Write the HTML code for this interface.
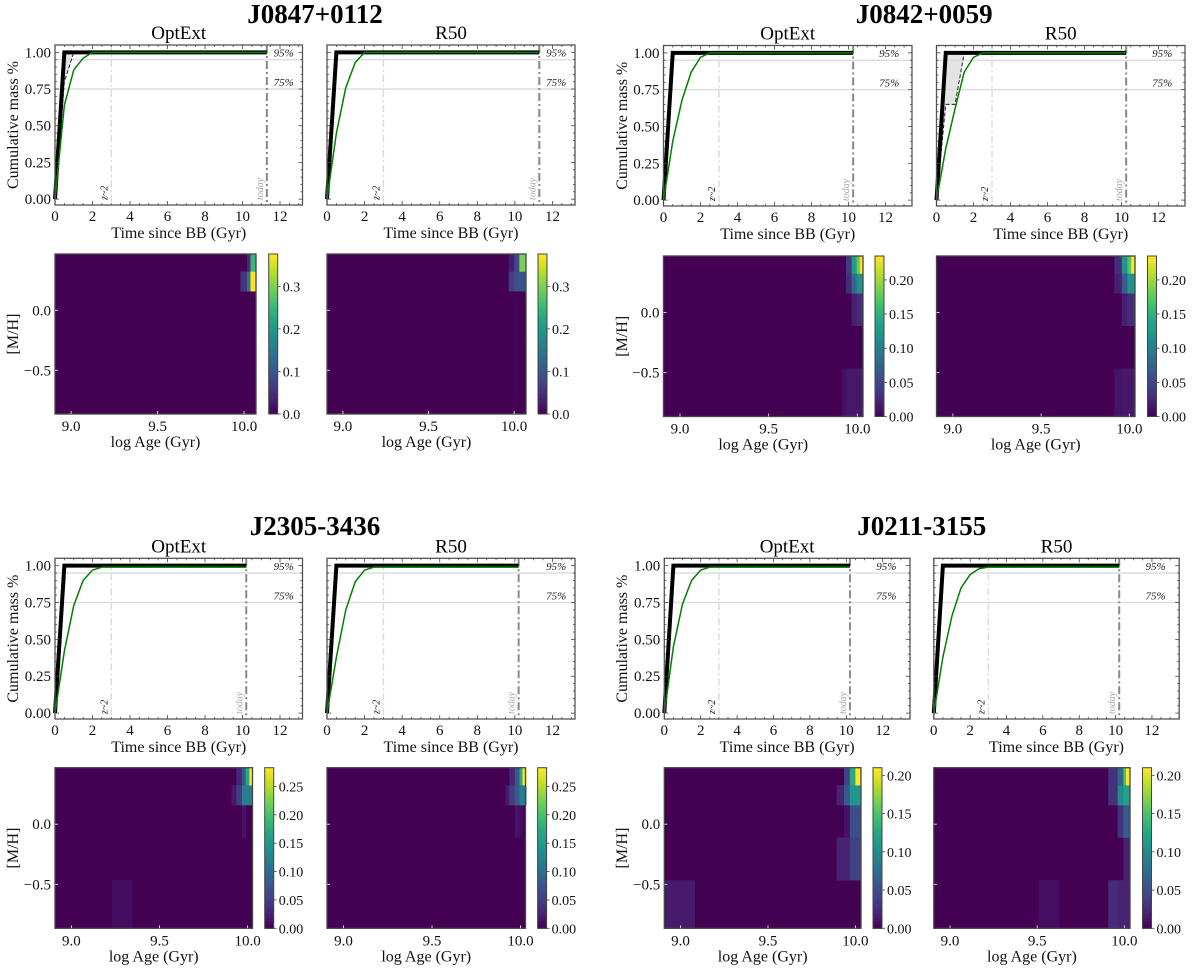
<!DOCTYPE html>
<html><head><meta charset="utf-8"><title>Cumulative mass and age–metallicity maps</title>
<style>
html,body{margin:0;padding:0;background:#fff;}
svg{display:block;font-family:"Liberation Serif","DejaVu Serif",serif;}
</style></head>
<body>
<svg id="fig" width="1200" height="971" viewBox="0 0 1200 971" xmlns="http://www.w3.org/2000/svg"></svg>
<script>
// ---------------- DATA ----------------
const galaxies = ["J0847+0112", "J0842+0059", "J2305-3436", "J0211-3155"];
const todayGyr = [11.3, 10.25, 10.2, 10.2];
const stepTimes = [0, 0.5, 1, 1.5, 2, 2.5, 3];
const blackOpt = [[0,1,1,1,1,1,1],[0,1,1,1,1,1,1],[0,1,1,1,1,1,1],[0,1,1,1,1,1,1]];
const blackR50 = [[0,1,1,1,1,1,1],[0,1,1,1,1,1,1],[0,1,1,1,1,1,1],[0,1,1,1,1,1,1]];
const lowerOpt = [[0,0.8,1,1,1,1,1],[0,1,1,1,1,1,1],[0,1,1,1,1,1,1],[0,1,1,1,1,1,1]];
const lowerR50 = [[0,1,1,1,1,1,1],[0,0.65,0.65,1,1,1,1],[0,1,1,1,1,1,1],[0,1,1,1,1,1,1]];
const greenOpt = [
  [0,0.64,0.88,0.96,1.0,1.0,1.0],
  [0,0.40,0.68,0.87,0.97,1.0,1.0],
  [0,0.42,0.73,0.90,0.97,0.99,0.99],
  [0,0.45,0.74,0.90,0.97,0.99,0.99]];
const greenR50 = [
  [0,0.45,0.76,0.93,1.0,1.0,1.0],
  [0,0.35,0.62,0.87,0.97,1.0,1.0],
  [0,0.38,0.70,0.89,0.97,0.99,0.99],
  [0,0.38,0.66,0.85,0.94,0.98,0.99]];
const yTicks = [0, 0.25, 0.5, 0.75, 1.0];
const yTickLabels = ["0.00","0.25","0.50","0.75","1.00"];
const xTicks = [0, 2, 4, 6, 8, 10, 12];
const refLevels = [0.95, 0.75];
const refLabels = ["95%", "75%"];
const zTwoGyr = 3.0;

// heatmaps: [M/H] bin edges (shared), log-age bin edges per panel, values rows bottom->top
const mhEdges = [-0.865, -0.465, -0.11, 0.16, 0.325, 0.47];
const heatXMax = [10.069, 10.032, 10.028, 10.032];
const cbarMax = [0.376, 0.235, 0.283, 0.21];
const cbarTicks = [[0,0.1,0.2,0.3],[0,0.05,0.10,0.15,0.20],[0,0.05,0.10,0.15,0.20,0.25],[0,0.05,0.10,0.15,0.20]];
const cbarDigits = [1, 2, 2, 2];
const ageEdgesOpt = [
  [9.979,10.017,10.037,10.069],
  [9.915,9.936,9.968,9.996,10.015,10.032],
  [9.23,9.344,9.908,9.936,9.968,9.989,10.01,10.028],
  [8.91,9.08,9.892,9.935,9.968,10.0,10.032]];
const ageEdgesR50 = [
  [9.968,10.0,10.03,10.069],
  [9.915,9.957,9.989,10.01,10.032],
  [9.915,9.936,9.968,9.994,10.011,10.032],
  [9.508,9.626,9.907,9.961,9.994,10.009,10.03]];
const heatOpt = [
  [[0,0,0],[0,0,0],[0,0,0],[0.06,0.15,0.376],[0,0.04,0.25]],
  [[0.01,0.015,0.015,0.015,0.015],[0,0,0,0,0],[0,0,0.02,0.03,0.03],[0,0.03,0.08,0.12,0.12],[0,0.04,0.13,0.18,0.235]],
  [[0.01,0,0,0,0,0,0],[0,0,0,0,0,0,0],[0,0,0,0,0.015,0,0],[0,0,0.02,0.05,0.12,0.12,0.12],[0,0,0,0.03,0.08,0.17,0.283]],
  [[0.015,0,0,0,0,0],[0,0,0.02,0.02,0.04,0.04],[0,0,0,0.01,0.05,0.05],[0,0,0.02,0.06,0.11,0.11],[0,0,0,0.04,0.13,0.21]]];
const heatR50 = [
  [[0,0,0],[0,0,0],[0,0,0],[0.07,0.09,0.1],[0.03,0.08,0.3]],
  [[0.012,0.015,0.015,0.015],[0,0,0,0],[0,0.02,0.03,0.03],[0.02,0.07,0.12,0.12],[0.03,0.12,0.17,0.235]],
  [[0,0,0,0,0],[0,0,0,0,0],[0,0,0.015,0.01,0],[0.02,0.05,0.08,0.12,0.12],[0,0.03,0.08,0.17,0.283]],
  [[0.008,0,0.025,0.02,0.02,0.02],[0,0,0,0,0.02,0.02],[0,0,0,0.03,0.06,0.06],[0,0,0.03,0.10,0.12,0.12],[0,0,0.03,0.07,0.15,0.21]]];
const heatXTicks = [9.0, 9.5, 10.0];
const heatYTicks = [0.0, -0.5];
const heatYTickLabels = ["0.0", "\u22120.5"];

// ---------------- LAYOUT (pixels) ----------------
const layout = [
  {l1:[55,302.5], l2:[327,575], ly:[45,205], h1:[55,256], h2:[327,526], hy:[254,414], cb1:268.7, cb2:538, ty:13, xmax:13.2, ylab:12},
  {l1:[663.5,912], l2:[936.5,1185], ly:[45.5,206], h1:[663.5,863], h2:[936.5,1135], hy:[256,416.5], cb1:875, cb2:1147.5, ty:13, xmax:13.43, ylab:621},
  {l1:[55,302.5], l2:[327,575], ly:[558.3,719], h1:[55,252.5], h2:[327,525.5], hy:[767.7,928.3], cb1:264.7, cb2:537.6, ty:525, xmax:13.2, ylab:12},
  {l1:[664.3,910], l2:[933.8,1179.2], ly:[558.3,719], h1:[664.3,861], h2:[933.8,1130], hy:[767.7,928.3], cb1:873, cb2:1142.5, ty:525, xmax:13.5, ylab:621}];
const HEAT_XMIN = 8.907, YMIN = -0.04, YMAX = 1.05;

// ---------------- HELPERS ----------------
const NS = "http://www.w3.org/2000/svg";
const svg = document.getElementById("fig");
function mk(tag, attrs, parent, text) {
  const e = document.createElementNS(NS, tag);
  for (const k in attrs) e.setAttribute(k, attrs[k]);
  if (text !== undefined) e.textContent = text;
  (parent || svg).appendChild(e);
  return e;
}
const vir = ["#440154","#482475","#414487","#355f8d","#2a788e","#21918c","#22a884","#44bf70","#7ad151","#bddf26","#fde725"];
function hex(c){return [parseInt(c.slice(1,3),16),parseInt(c.slice(3,5),16),parseInt(c.slice(5,7),16)];}
function viridis(t){
  t = Math.max(0, Math.min(1, t));
  const p = t * 10, i = Math.min(9, Math.floor(p)), f = p - i;
  const a = hex(vir[i]), b = hex(vir[i+1]);
  return "rgb(" + a.map((v,k)=>Math.round(v + (b[k]-v)*f)).join(",") + ")";
}

// ---------------- LINE PANEL ----------------
function linePanel(g, which, xr, yr, xmax, black, lower, green, showYLabels) {
  const gEl = mk("g", {}, svg);
  
  
  const X = t => xr[0] + (t / xmax) * (xr[1] - xr[0]);
  const Y = m => yr[1] - (m - YMIN) / (YMAX - YMIN) * (yr[1] - yr[0]);
  const today = todayGyr[g];
  refLevels.forEach((lv, i) => {
    const l = mk("line", {x1:xr[0], x2:xr[1], y1:Y(lv), y2:Y(lv), stroke:"#dedede", "stroke-width":1.5}, gEl);
    
    
    const t = mk("text", {x:X(12.2), y:Y(lv)-3, "font-size":11, "font-style":"italic", "text-anchor":"middle", fill:"#222"}, gEl, refLabels[i]);
    
    
  });
  const zl = mk("line", {x1:X(zTwoGyr), x2:X(zTwoGyr), y1:yr[0], y2:yr[1], stroke:"#dcdcdc", "stroke-width":1.5, "stroke-dasharray":"7,3,2,3"}, gEl);
  
  
  const zt = mk("text", {transform:`translate(${X(zTwoGyr)-4},${yr[1]-5}) rotate(-90)`, "font-size":10, "font-style":"italic", fill:"#222"}, gEl, "z~2");
  
  
  const tl = mk("line", {x1:X(today), x2:X(today), y1:yr[0], y2:yr[1], stroke:"#888", "stroke-width":2, "stroke-dasharray":"8,3,2,3"}, gEl);
  
  
  const tt = mk("text", {transform:`translate(${X(today)-4},${yr[1]-5}) rotate(-90)`, "font-size":10, "font-style":"italic", fill:"#aaa"}, gEl, "today");
  
  
  const pts = (arr) => stepTimes.map((t,i)=>[t, arr[i]]).concat([[today, arr[arr.length-1]]]);
  const bp = pts(black), lp = pts(lower), gp = pts(green);
  const differs = lower.some((v,i)=>v !== black[i]);
  if (differs) {
    const poly = bp.concat(lp.slice().reverse()).map(p=>X(p[0])+","+Y(p[1])).join(" ");
    const band = mk("polygon", {points:poly, fill:"#d9d9d9", opacity:0.7}, gEl);
    
    
    const dl = mk("polyline", {points:lp.map(p=>X(p[0])+","+Y(p[1])).join(" "), fill:"none", stroke:"#222", "stroke-width":1, "stroke-dasharray":"4,2"}, gEl);
    
    
  }
  const bl = mk("polyline", {points:bp.map(p=>X(p[0])+","+Y(p[1])).join(" "), fill:"none", stroke:"#000", "stroke-width":4, "stroke-linejoin":"miter"}, gEl);
  
  
  const gl = mk("polyline", {points:gp.map(p=>X(p[0])+","+Y(p[1])).join(" "), fill:"none", stroke:"#008000", "stroke-width":1.5}, gEl);
  
  
  const fr = mk("rect", {x:xr[0], y:yr[0], width:xr[1]-xr[0], height:yr[1]-yr[0], fill:"none", stroke:"#555", "stroke-width":1.3}, gEl);
  
  
  for (let t = 0; t <= xmax; t += 0.5) {
    const major = Math.abs(t % 2) < 1e-9, len = major ? 4 : 2;
    mk("line", {x1:X(t), x2:X(t), y1:yr[1], y2:yr[1]-len, stroke:"#444", "stroke-width":0.8}, gEl);
    mk("line", {x1:X(t), x2:X(t), y1:yr[0], y2:yr[0]+len, stroke:"#444", "stroke-width":0.8}, gEl);
  }
  xTicks.forEach(t => {
    const lab = mk("text", {x:X(t), y:yr[1]+16, "font-size":15, "text-anchor":"middle", fill:"#111"}, gEl, String(t));
    
    
  });
  for (let k = 0; k <= 20; k++) {
    const m = k * 0.05, major = k % 5 === 0, len = major ? 4 : 2;
    mk("line", {x1:xr[0], x2:xr[0]+len, y1:Y(m), y2:Y(m), stroke:"#444", "stroke-width":0.8}, gEl);
    mk("line", {x1:xr[1], x2:xr[1]-len, y1:Y(m), y2:Y(m), stroke:"#444", "stroke-width":0.8}, gEl);
  }
  if (showYLabels) {
    yTicks.forEach((m,i) => {
      const lab = mk("text", {x:xr[0]-4, y:Y(m)+5, "font-size":15, "text-anchor":"end", fill:"#111"}, gEl, yTickLabels[i]);
      
      
    });
  }
  const xl = mk("text", {x:(xr[0]+xr[1])/2, y:yr[1]+33, "font-size":16, "text-anchor":"middle", fill:"#111"}, gEl, "Time since BB (Gyr)");
  
  
}

// ---------------- HEATMAP PANEL ----------------
function heatPanel(g, which, xr, yr, cbx, edges, vals, showYLabels) {
  const gEl = mk("g", {}, svg);
  
  
  const xmax = heatXMax[g], vmax = cbarMax[g];
  const X = a => xr[0] + (a - HEAT_XMIN) / (xmax - HEAT_XMIN) * (xr[1] - xr[0]);
  const Y = m => yr[1] - (m - mhEdges[0]) / (mhEdges[mhEdges.length-1] - mhEdges[0]) * (yr[1] - yr[0]);
  const bg = mk("rect", {x:xr[0], y:yr[0], width:xr[1]-xr[0], height:yr[1]-yr[0], fill:viridis(0)}, gEl);
  
  
  vals.forEach((row, r) => {
    row.forEach((v, c) => {
      if (v <= 0) return;
      const x0 = X(edges[c]), x1 = X(edges[c+1]);
      const cell = mk("rect", {x:x0, y:Y(mhEdges[r+1]), width:x1-x0+0.3, height:Y(mhEdges[r])-Y(mhEdges[r+1])+0.3, fill:viridis(v/vmax)}, gEl);
      
      
    });
  });
  const fr = mk("rect", {x:xr[0], y:yr[0], width:xr[1]-xr[0], height:yr[1]-yr[0], fill:"none", stroke:"#444", "stroke-width":1.3}, gEl);
  
  
  heatXTicks.forEach(a => {
    mk("line", {x1:X(a), x2:X(a), y1:yr[1], y2:yr[1]-3, stroke:"#ccc", "stroke-width":1}, gEl);
    const lab = mk("text", {x:X(a), y:yr[1]+17, "font-size":15, "text-anchor":"middle", fill:"#111"}, gEl, a.toFixed(1));
    
    
  });
  heatYTicks.forEach((m,i) => {
    mk("line", {x1:xr[0], x2:xr[0]+3, y1:Y(m), y2:Y(m), stroke:"#ccc", "stroke-width":1}, gEl);
    if (showYLabels) {
      const lab = mk("text", {x:xr[0]-4, y:Y(m)+5, "font-size":15, "text-anchor":"end", fill:"#111"}, gEl, heatYTickLabels[i]);
      
      
    }
  });
  const xl = mk("text", {x:(xr[0]+xr[1])/2, y:yr[1]+33, "font-size":16, "text-anchor":"middle", fill:"#111"}, gEl, "log Age (Gyr)");
  
  
  const cg = mk("g", {}, gEl);
  
  
  const n = 60, h = yr[1] - yr[0], w = 9;
  for (let i = 0; i < n; i++) {
    mk("rect", {x:cbx, y:yr[1] - (i+1)*h/n, width:w, height:h/n+0.5, fill:viridis((i+0.5)/n)}, cg);
  }
  mk("rect", {x:cbx, y:yr[0], width:w, height:h, fill:"none", stroke:"#444", "stroke-width":1}, cg);
  cbarTicks[g].forEach(v => {
    const y = yr[1] - v / vmax * h;
    mk("line", {x1:cbx+w, x2:cbx+w+3, y1:y, y2:y, stroke:"#444", "stroke-width":0.8}, cg);
    const lab = mk("text", {x:cbx+w+5, y:y+5, "font-size":14, fill:"#111"}, cg, v.toFixed(cbarDigits[g]));
    
    
  });
}

// ---------------- BUILD ----------------
galaxies.forEach((name, g) => {
  const L = layout[g];
  const cx = (L.l1[0] + L.l2[1]) / 2;
  const title = mk("text", {x:cx, y:L.ty+10, "font-size":27, "font-weight":"bold", "text-anchor":"middle", fill:"#000"}, svg, name);
  
  
  const s1 = mk("text", {x:(L.l1[0]+L.l1[1])/2, y:L.ly[0]-6, "font-size":19, "text-anchor":"middle", fill:"#000"}, svg, "OptExt");
  
  
  const s2 = mk("text", {x:(L.l2[0]+L.l2[1])/2, y:L.ly[0]-6, "font-size":19, "text-anchor":"middle", fill:"#000"}, svg, "R50");
  
  
  const yl = mk("text", {transform:`translate(${L.ylab+6},${(L.ly[0]+L.ly[1])/2}) rotate(-90)`, "font-size":16, "text-anchor":"middle", fill:"#111"}, svg, "Cumulative mass %");
  
  
  const ml = mk("text", {transform:`translate(${L.ylab+6},${(L.hy[0]+L.hy[1])/2}) rotate(-90)`, "font-size":16, "text-anchor":"middle", fill:"#111"}, svg, "[M/H]");
  
  
  linePanel(g, "optext", L.l1, L.ly, L.xmax, blackOpt[g], lowerOpt[g], greenOpt[g], true);
  linePanel(g, "r50", L.l2, L.ly, L.xmax, blackR50[g], lowerR50[g], greenR50[g], false);
  heatPanel(g, "optext", L.h1, L.hy, L.cb1, ageEdgesOpt[g], heatOpt[g], true);
  heatPanel(g, "r50", L.h2, L.hy, L.cb2, ageEdgesR50[g], heatR50[g], false);
});
</script>
</body></html>
